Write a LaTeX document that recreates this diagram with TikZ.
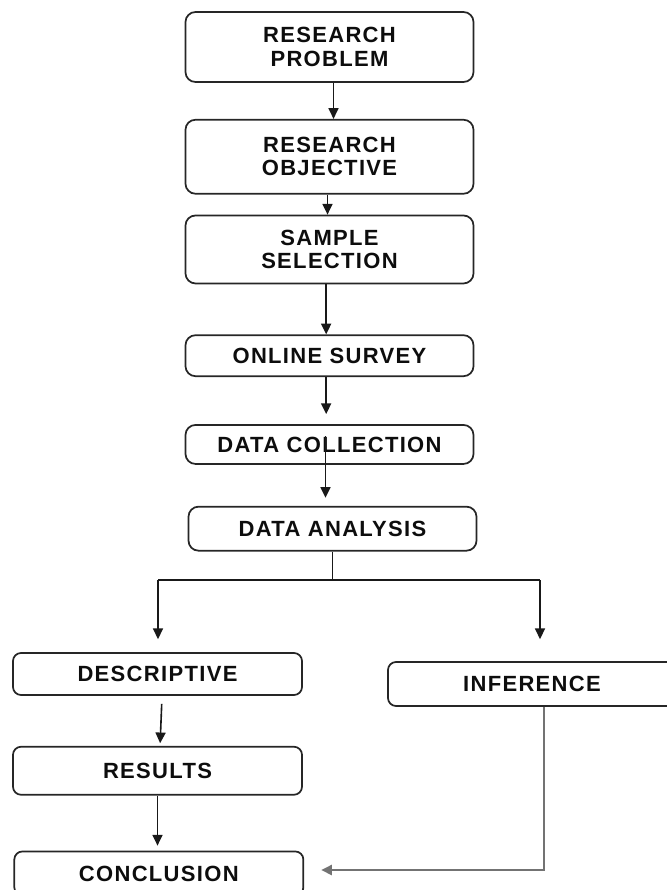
\documentclass[tikz,border=0pt]{standalone}
\usepackage{fontspec}
\setmainfont{Liberation Sans}
\newfontfamily\boxfont[LetterSpace=6]{Liberation Sans}
\usetikzlibrary{arrows.meta, positioning}
\tikzset{
  stage/.style={
    rectangle, rounded corners=7.5pt, minimum width=216pt,
    align=center, draw=black!85, line width=1.3pt, text=black!95,
    font=\boxfont\bfseries\fontsize{16.5}{17.5}\selectfont
  },
  outcome/.style={
    stage, rounded corners=6pt, minimum width=216.75pt
  },
  arrow/.style={
    -{Triangle[width=7.5pt,length=8pt]}, line width=1.2pt, color=black!90
  },
  link/.style={
    line width=1.2pt, color=black!90
  },
  feedback/.style={
    -{Triangle[width=7.5pt,length=8pt]}, line width=1.7pt, color=black!55
  }
}

\begin{document}
\begin{tikzpicture}[x=0.75pt, y=-0.75pt]
\useasboundingbox (0,0) rectangle (667,890);
\clip (0,0) rectangle (667,890);

% Etapes principales (empilees)
\node (problem) [stage, minimum height=52.5pt] at (329.5,47) {RESEARCH\\PROBLEM};
\node (objective) [stage, minimum height=55.5pt, below=27pt of problem] {RESEARCH\\OBJECTIVE};
\node (selection) [stage, minimum height=51pt, below=15pt of objective] {SAMPLE\\SELECTION};
\node (survey) [stage, minimum height=30.75pt, below=37.5pt of selection] {ONLINE SURVEY};
\node (collection) [stage, minimum height=29.25pt, below=35.25pt of survey] {DATA COLLECTION};
\node (analysis) [stage, minimum height=33pt, below=30.75pt of collection, xshift=2.25pt] {DATA ANALYSIS};

% Branches
\node (descriptive) [outcome, minimum height=31.5pt] at (157.5,674) {DESCRIPTIVE};
\node (results) [outcome, minimum height=36pt, below=37.5pt of descriptive] {RESULTS};
\node (conclusion) [outcome, minimum height=33pt, below=41.25pt of results, xshift=1pt] {CONCLUSION};
\node (inference) [outcome, minimum height=33pt, minimum width=216pt] at (532,684) {INFERENCE};

% Points de raccord
\coordinate (leftdrop) at (158,580);
\coordinate (rightdrop) at (540,580);
\coordinate (corner) at (544,870);

% Fleches de la chaine principale
\draw [arrow] ([xshift=3pt]problem.south) -- ([xshift=3pt]objective.north);
\draw [arrow] ([xshift=-1.5pt]objective.south) -- ([xshift=-1.5pt]selection.north);
\draw [arrow] ([xshift=-2.5pt]selection.south) -- ([xshift=-2.5pt]survey.north);
\draw [arrow, shorten >=7.5pt] ([xshift=-2.5pt]survey.south) -- ([xshift=-2.5pt]collection.north);
\draw [arrow, shorten >=6pt] ([xshift=-3pt,yshift=-9pt]collection.north) -- ([xshift=-5.25pt]analysis.north);

% Separation vers les deux branches
\draw [link] (analysis.south) -- (analysis.south |- leftdrop);
\draw [link] (leftdrop) -- (rightdrop);
\draw [arrow, shorten >=9.75pt] (leftdrop) -- (leftdrop |- descriptive.north);
\draw [arrow, shorten >=16.5pt] (rightdrop) -- (rightdrop |- inference.north);

% Branche gauche
\draw [arrow, shorten <=6pt, shorten >=2pt] ([xshift=3.4pt]descriptive.south) -- ([xshift=1.9pt]results.north);
\draw [arrow, shorten >=3.75pt] (results.south) -- (results.south |- conclusion.north);

% Retour de l'inference vers la conclusion
\draw [feedback, shorten >=12.75pt] (inference.south -| corner) -- (corner) -- (corner -| conclusion.east);

\end{tikzpicture}
\end{document}
